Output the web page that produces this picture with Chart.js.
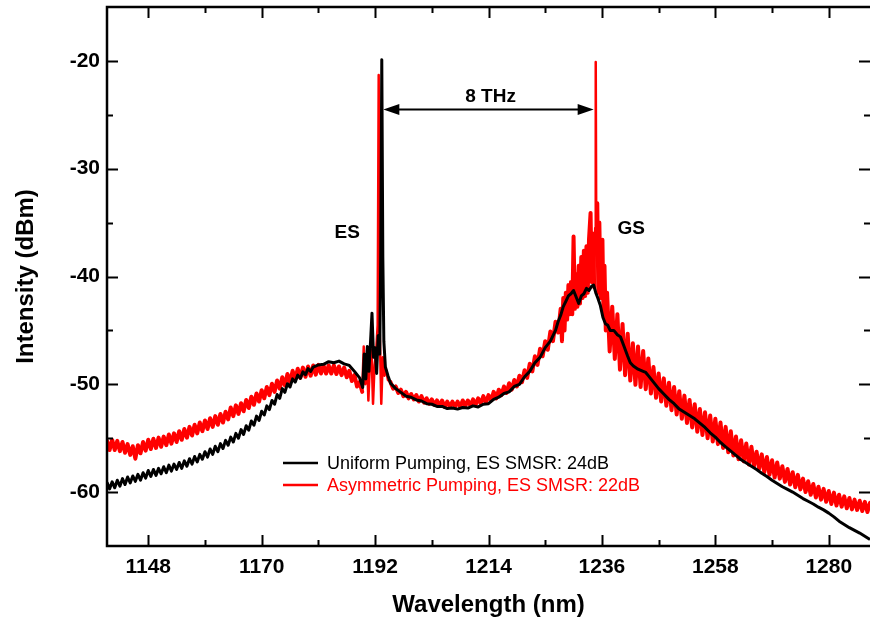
<!DOCTYPE html>
<html>
<head>
<meta charset="utf-8">
<script src="https://cdn.jsdelivr.net/npm/chart.js@4.4.1/dist/chart.umd.min.js"></script>
<style>
  html, body { margin: 0; padding: 0; background: #fff; }
  #wrap { width: 870px; height: 626px; }
</style>
</head>
<body>
<div id="wrap"><canvas id="spectrum" width="870" height="626"></canvas></div>
<script>
// tick labels on the axes
const xTickValues = [1148, 1170, 1192, 1214, 1236, 1258, 1280];
const xMinorValues = [1159, 1181, 1203, 1225, 1247, 1269];
const yTickValues = [-60, -50, -40, -30, -20];
const yMinorValues = [-55, -45, -35, -25];

// series names (legend)
const seriesNames = ['Uniform Pumping, ES SMSR: 24dB', 'Asymmetric Pumping, ES SMSR: 22dB'];

// uniform pumping spectrum  [wavelength nm, intensity dBm]
const uniformPumping = [
  [1140, -59.1], [1140.5, -59.7], [1141, -59.05], [1141.5, -59.6], [1142, -58.9], [1142.5, -59.45], [1143, -58.75], [1143.5, -59.3],
  [1144, -58.6], [1144.5, -59.15], [1145, -58.5], [1145.5, -59.0], [1146, -58.35], [1146.5, -58.9], [1147, -58.2], [1147.5, -58.7],
  [1148, -58.0], [1148.5, -58.55], [1149, -57.9], [1149.5, -58.45], [1150, -57.8], [1150.5, -58.3], [1151, -57.65], [1151.5, -58.2],
  [1152, -57.5], [1152.5, -58.05], [1153, -57.4], [1153.5, -57.9], [1154, -57.25], [1154.5, -57.8], [1155, -57.1], [1155.5, -57.6],
  [1156, -56.9], [1156.5, -57.4], [1157, -56.7], [1157.5, -57.2], [1158, -56.5], [1158.5, -56.95], [1159, -56.25], [1159.5, -56.75],
  [1160, -56.0], [1160.5, -56.5], [1161, -55.75], [1161.5, -56.25], [1162, -55.5], [1162.5, -55.95], [1163, -55.2], [1163.5, -55.65],
  [1164, -54.9], [1164.5, -55.35], [1165, -54.55], [1165.5, -55.0], [1166, -54.2], [1166.5, -54.65], [1167, -53.85], [1167.5, -54.25],
  [1168, -53.4], [1168.5, -53.8], [1169, -52.95], [1169.5, -53.35], [1170, -52.5], [1170.5, -52.85], [1171, -52.0], [1171.5, -52.35],
  [1172, -51.5], [1172.5, -51.85], [1173, -50.95], [1173.5, -51.3], [1174, -50.4], [1174.5, -50.75], [1175, -49.95], [1175.5, -50.25],
  [1176, -49.5], [1176.5, -49.8], [1177, -49.15], [1177.5, -49.45], [1178, -48.85], [1178.5, -49.1], [1179, -48.55], [1179.5, -48.8],
  [1180, -48.4], [1181, -48.2], [1182, -48.15], [1183, -47.9], [1184, -48.0], [1185, -47.85], [1186, -48.1], [1187, -48.25],
  [1188, -48.8], [1189, -49.4], [1189.6, -50.3],
  // ES lasing region
  [1189.9, -47.2], [1190.2, -49.5], [1190.5, -46.5], [1190.8, -48.8], [1191.1, -46.2], [1191.4, -43.4], [1191.7, -47.5],
  [1192.0, -46.6], [1192.3, -49.0], [1192.6, -45.5], [1192.9, -47.2], [1193.1, -38.0], [1193.3, -19.9], [1193.5, -38.2],
  [1193.7, -46.0], [1194.0, -48.4], [1194.5, -49.2],
  [1195, -49.9], [1196, -50.4], [1197, -50.75], [1198, -51.1], [1199, -51.2], [1200, -51.45], [1201, -51.55], [1202, -51.8],
  [1203, -51.85], [1204, -52.05], [1205, -52.05], [1206, -52.25], [1207, -52.2], [1208, -52.3], [1209, -52.15], [1210, -52.2],
  [1211, -52.0], [1212, -52.1], [1213, -51.85], [1214, -51.8], [1215, -51.4], [1216, -51.2], [1217, -50.85], [1218, -50.7],
  [1219, -50.2], [1220, -50.0], [1221, -49.3], [1222, -48.8], [1223, -48.0], [1224, -47.5], [1225, -46.6], [1226, -46.0],
  [1227, -45.0], [1227.5, -44.2], [1228, -43.6], [1228.5, -42.8],
  // GS region
  [1229, -42.3], [1229.5, -41.8], [1230, -41.6], [1230.5, -41.3], [1231, -41.9], [1231.5, -42.5], [1232, -41.8], [1232.5, -41.6],
  [1233, -41.1], [1233.5, -41.3], [1234, -40.9], [1234.4, -40.8], [1234.8, -41.5], [1235.2, -42.0], [1235.7, -42.7], [1236.2, -43.8],
  [1236.7, -44.4], [1237.1, -44.5], [1237.6, -45.0], [1238.3, -45.0], [1239, -45.4], [1239.6, -45.6], [1240.3, -46.5], [1241, -47.4],
  [1241.5, -48.0], [1242.1, -48.3], [1243, -48.6], [1244, -48.8], [1244.5, -48.9], [1245, -49.2], [1246, -49.8], [1247, -50.4],
  [1248, -50.9], [1249, -51.4], [1250, -51.8], [1251, -52.3], [1252, -52.6], [1253, -52.9], [1254, -53.2], [1255, -53.6],
  [1256, -54.0], [1257, -54.5], [1258, -54.9], [1259, -55.4], [1260, -55.8], [1261, -56.2], [1262, -56.6], [1263, -57.0],
  [1264, -57.3], [1265, -57.6], [1266, -57.9], [1267, -58.25], [1268, -58.55], [1269, -58.9], [1270, -59.2], [1271, -59.5],
  [1272, -59.75], [1273, -60.0], [1274, -60.3], [1275, -60.6], [1276, -60.85], [1277, -61.1], [1278, -61.4], [1279, -61.65],
  [1280, -61.95], [1281, -62.3], [1282, -62.7], [1283, -63.0], [1284, -63.3], [1285, -63.55], [1286, -63.8], [1287, -64.1],
  [1288, -64.4]
];

// asymmetric pumping spectrum  [wavelength nm, intensity dBm]
const asymmetricPumping = [
  [1140, -55.25], [1140.5, -56.1], [1141, -55.15], [1141.5, -56.1], [1142, -55.25], [1142.5, -56.2], [1143, -55.35], [1143.5, -56.35],
  [1144, -55.55], [1144.5, -56.55], [1145, -55.75], [1145.5, -56.9], [1146, -55.65], [1146.5, -56.4], [1147, -55.35], [1147.5, -56.15],
  [1148, -55.15], [1148.5, -56.0], [1149, -55.05], [1149.5, -55.9], [1150, -54.95], [1150.5, -55.8], [1151, -54.85], [1151.5, -55.65],
  [1152, -54.65], [1152.5, -55.5], [1153, -54.55], [1153.5, -55.35], [1154, -54.35], [1154.5, -55.15], [1155, -54.15], [1155.5, -54.95],
  [1156, -53.95], [1156.5, -54.75], [1157, -53.75], [1157.5, -54.55], [1158, -53.55], [1158.5, -54.35], [1159, -53.35], [1159.5, -54.15],
  [1160, -53.15], [1160.5, -53.95], [1161, -52.95], [1161.5, -53.75], [1162, -52.75], [1162.5, -53.55], [1163, -52.55], [1163.5, -53.25],
  [1164, -52.15], [1164.5, -52.95], [1165, -51.95], [1165.5, -52.75], [1166, -51.75], [1166.5, -52.5], [1167, -51.45], [1167.5, -52.2],
  [1168, -51.15], [1168.5, -51.9], [1169, -50.85], [1169.5, -51.6], [1170, -50.55], [1170.5, -51.3], [1171, -50.25], [1171.5, -51.0],
  [1172, -49.95], [1172.5, -50.7], [1173, -49.65], [1173.5, -50.4], [1174, -49.35], [1174.5, -50.1], [1175, -49.05], [1175.5, -49.8],
  [1176, -48.75], [1176.5, -49.55], [1177, -48.55], [1177.5, -49.4], [1178, -48.45], [1178.5, -49.3], [1179, -48.35], [1179.5, -49.2],
  [1180, -48.25], [1180.5, -49.1], [1181, -48.2], [1181.5, -49.0], [1182, -48.25], [1182.5, -49.0], [1183, -48.25], [1183.5, -49.0],
  [1184, -48.25], [1184.5, -49.05], [1185, -48.35], [1185.5, -49.15], [1186, -48.45], [1186.5, -49.35], [1187, -48.75], [1187.5, -49.7],
  [1188, -49.15], [1188.5, -50.2], [1189, -49.8], [1189.5, -50.7],
  // ES lasing region
  [1189.8, -46.5], [1190.1, -50.0], [1190.4, -47.2], [1190.7, -51.5], [1191.0, -48.0], [1191.3, -46.8], [1191.6, -51.8],
  [1191.9, -48.2], [1192.2, -47.0], [1192.5, -44.5], [1192.7, -21.3], [1192.9, -45.0], [1193.2, -51.8], [1193.5, -47.5],
  [1193.8, -49.2], [1194.1, -48.6], [1194.5, -49.6],
  [1195, -49.8], [1195.5, -50.4], [1196, -50.2], [1196.5, -50.8], [1197, -50.5], [1197.5, -51.1], [1198, -50.7], [1198.5, -51.3],
  [1199, -50.9], [1199.5, -51.4], [1200, -51.0], [1200.5, -51.6], [1201, -51.1], [1201.5, -51.7], [1202, -51.3], [1202.5, -51.8],
  [1203, -51.4], [1203.5, -51.9], [1204, -51.5], [1204.5, -52.0], [1205, -51.5], [1205.5, -52.1], [1206, -51.6], [1206.5, -52.1],
  [1207, -51.6], [1207.5, -52.1], [1208, -51.6], [1208.5, -52.1], [1209, -51.5], [1209.5, -52.0], [1210, -51.5], [1210.5, -52.0],
  [1211, -51.4], [1211.5, -51.9], [1212, -51.3], [1212.5, -51.8], [1213, -51.1], [1213.5, -51.7], [1214, -51.0], [1214.5, -51.5],
  [1215, -50.7], [1215.5, -51.3], [1216, -50.5], [1216.5, -51.0], [1217, -50.2], [1217.5, -50.8], [1218, -49.9], [1218.5, -50.5],
  [1219, -49.6], [1219.5, -50.2], [1220, -49.2], [1220.5, -49.8], [1221, -48.7], [1221.5, -49.4], [1222, -48.1], [1222.5, -48.8],
  [1223, -47.4], [1223.5, -48.2], [1224, -46.7], [1224.5, -47.4], [1225, -46.0], [1225.5, -46.8], [1226, -45.1], [1226.5, -46.0],
  [1227, -44.2], [1227.5, -45.2],
  // GS region
  [1228, -43.0], [1228.25, -46.0], [1228.5, -42.0], [1228.75, -45.0], [1229, -41.5], [1229.25, -44.0], [1229.5, -40.8], [1229.75, -43.5],
  [1230, -40.5], [1230.25, -43.5], [1230.5, -36.3], [1230.75, -43.0], [1231, -39.8], [1231.25, -42.8], [1231.5, -39.0], [1231.75, -42.5],
  [1232, -38.2], [1232.25, -42.0], [1232.5, -37.6], [1232.75, -41.8], [1233, -37.2], [1233.25, -41.5], [1233.5, -36.5], [1233.8, -34.1],
  [1234, -40.5], [1234.25, -36.0], [1234.5, -41.0], [1234.7, -35.5], [1234.8, -20.1], [1234.9, -36.0], [1235.1, -33.2], [1235.3, -41.5],
  [1235.5, -35.0], [1235.75, -42.0], [1236.1, -36.6], [1236.3, -43.5], [1236.5, -39.0], [1236.75, -45.0], [1237, -41.5],
  [1237.5, -46.95], [1238, -42.8], [1238.5, -47.65], [1239, -43.5], [1239.5, -48.65], [1240, -44.4], [1240.5, -49.15], [1241, -45.3],
  [1241.5, -49.65], [1242, -46.2], [1242.5, -50.05], [1243, -46.5], [1243.5, -50.25], [1244, -46.9], [1244.5, -50.45], [1245, -47.6],
  [1245.5, -50.85], [1246, -48.4], [1246.5, -51.25], [1247, -49.0], [1247.5, -51.6], [1248, -49.45], [1248.5, -52.0], [1249, -49.85],
  [1249.5, -52.4], [1250, -50.25], [1250.5, -52.8], [1251, -50.65], [1251.5, -53.2], [1252, -51.05], [1252.5, -53.6], [1253, -51.45],
  [1253.5, -54.0], [1254, -51.85], [1254.5, -54.4], [1255, -52.3], [1255.5, -54.7], [1256, -52.6], [1256.5, -55.0], [1257, -52.9],
  [1257.5, -55.3], [1258, -53.2], [1258.5, -55.55], [1259, -53.55], [1259.5, -55.9], [1260, -53.95], [1260.5, -56.3], [1261, -54.35],
  [1261.5, -56.6], [1262, -54.85], [1262.5, -56.95], [1263, -55.2], [1263.5, -57.15], [1264, -55.5], [1264.5, -57.45], [1265, -55.8],
  [1265.5, -57.6], [1266, -56.25], [1266.5, -57.85], [1267, -56.5], [1267.5, -58.15], [1268, -56.75], [1268.5, -58.4], [1269, -57.05],
  [1269.5, -58.65], [1270, -57.25], [1270.5, -58.75], [1271, -57.6], [1271.5, -59.05], [1272, -57.85], [1272.5, -59.3], [1273, -58.15],
  [1273.5, -59.55], [1274, -58.4], [1274.5, -59.75], [1275, -58.75], [1275.5, -60.0], [1276, -59.0], [1276.5, -60.25], [1277, -59.25],
  [1277.5, -60.5], [1278, -59.5], [1278.5, -60.7], [1279, -59.7], [1279.5, -60.9], [1280, -59.9], [1280.5, -61.1], [1281, -60.05],
  [1281.5, -61.25], [1282, -60.25], [1282.5, -61.35], [1283, -60.4], [1283.5, -61.5], [1284, -60.55], [1284.5, -61.6], [1285, -60.7],
  [1285.5, -61.65], [1286, -60.8], [1286.5, -61.75], [1287, -60.9], [1287.5, -61.85], [1288, -61.0]
];

// text notes on the plot  [text, wavelength, dBm]
const notes = [['ES', 1186.6, -35.9], ['GS', 1241.7, -35.6], ['8 THz', 1214.4, -23.3]];
// arrow between the two lasing lines  [from nm, to nm, dBm]
const spacingArrow = [1193.6, 1234.4, -24.5];

const fontFamily = '"Liberation Sans", Arial, Helvetica, sans-serif';
const seriesColors = ['#000000', '#ff0000'];

function toPoints(pairs) {
    return pairs.map(p => ({ x: p[0], y: p[1] }));
}

// thin line only around the two lasing lines
function redWidth(c) {
    const x0 = c.p0.parsed.x;
    if (x0 >= 1189.5 && x0 < 1195) return 2.5;
    if (x0 >= 1234.5 && x0 < 1235) return 2.5;
    return 4;
}

// draws frame, inward ticks, annotations and legend
const framePlugin = {
    id: 'framePlugin',
    afterDatasetsDraw(chart) {
        const ctx = chart.ctx;
        const a = chart.chartArea;
        const x = chart.scales.x;
        const y = chart.scales.y;

        ctx.save();
        ctx.strokeStyle = '#000';
        ctx.lineWidth = 2.5;
        ctx.beginPath();
        ctx.moveTo(a.right + 2, a.top);
        ctx.lineTo(a.left, a.top);
        ctx.lineTo(a.left, a.bottom);
        ctx.lineTo(a.right + 2, a.bottom);
        ctx.stroke();

        ctx.lineWidth = 2;
        ctx.beginPath();
        function tickX(v, len) {
            const px = Math.round(x.getPixelForValue(v)) + 0.5;
            ctx.moveTo(px, a.bottom); ctx.lineTo(px, a.bottom - len);
            ctx.moveTo(px, a.top); ctx.lineTo(px, a.top + len);
        }
        function tickY(v, len) {
            const py = Math.round(y.getPixelForValue(v)) + 0.5;
            ctx.moveTo(a.left, py); ctx.lineTo(a.left + len, py);
            ctx.moveTo(a.right, py); ctx.lineTo(a.right - len, py);
        }
        xTickValues.forEach(v => tickX(v, 11));
        xMinorValues.forEach(v => tickX(v, 6));
        yTickValues.forEach(v => tickY(v, 11));
        yMinorValues.forEach(v => tickY(v, 6));
        ctx.stroke();

        // notes
        ctx.fillStyle = '#000';
        ctx.font = 'bold 19px ' + fontFamily;
        ctx.textAlign = 'center';
        ctx.textBaseline = 'middle';
        notes.forEach(n => {
            ctx.fillText(n[0], x.getPixelForValue(n[1]), y.getPixelForValue(n[2]));
        });

        // double arrow
        const x1 = x.getPixelForValue(spacingArrow[0]);
        const x2 = x.getPixelForValue(spacingArrow[1]);
        const ay = Math.round(y.getPixelForValue(spacingArrow[2])) + 0.5;
        ctx.lineWidth = 2;
        ctx.beginPath();
        ctx.moveTo(x1 + 10, ay);
        ctx.lineTo(x2 - 10, ay);
        ctx.stroke();
        ctx.beginPath();
        ctx.moveTo(x1, ay); ctx.lineTo(x1 + 16, ay - 5.5); ctx.lineTo(x1 + 16, ay + 5.5); ctx.closePath();
        ctx.moveTo(x2, ay); ctx.lineTo(x2 - 16, ay - 5.5); ctx.lineTo(x2 - 16, ay + 5.5); ctx.closePath();
        ctx.fill();

        // legend
        ctx.font = '18px ' + fontFamily;
        ctx.textAlign = 'left';
        const rows = [463, 485];
        chart.data.datasets.forEach((ds, i) => {
            ctx.strokeStyle = ds.borderColor;
            ctx.fillStyle = ds.borderColor;
            ctx.lineWidth = 2.5;
            ctx.beginPath();
            ctx.moveTo(283, rows[i]);
            ctx.lineTo(318, rows[i]);
            ctx.stroke();
            ctx.fillText(ds.label, 327, rows[i] + 1);
        });
        ctx.restore();
    }
};

const tickFont = { family: fontFamily, size: 21, weight: 'bold' };
const titleFont = { family: fontFamily, size: 24, weight: 'bold' };

new Chart(document.getElementById('spectrum'), {
    type: 'line',
    data: {
        datasets: [{
            label: seriesNames[0],
            data: toPoints(uniformPumping),
            borderColor: seriesColors[0],
            borderWidth: 3,
            borderJoinStyle: 'round',
            pointRadius: 0,
            tension: 0
        }, {
            label: seriesNames[1],
            data: toPoints(asymmetricPumping),
            borderColor: seriesColors[1],
            borderWidth: 4,
            borderJoinStyle: 'round',
            borderCapStyle: 'round',
            segment: { borderWidth: redWidth },
            pointRadius: 0,
            tension: 0
        }]
    },
    options: {
        responsive: false,
        animation: false,
        devicePixelRatio: 1,
        layout: { padding: { top: 7, right: 0, left: 0, bottom: 0 } },
        plugins: {
            legend: { display: false },
            tooltip: { enabled: false }
        },
        scales: {
            x: {
                type: 'linear',
                min: 1140,
                max: 1288,
                grid: { display: false, drawTicks: false },
                border: { display: false },
                ticks: {
                    color: '#000',
                    font: tickFont,
                    padding: 9,
                    autoSkip: false,
                    maxRotation: 0,
                    callback: v => String(v)
                },
                afterBuildTicks: s => { s.ticks = xTickValues.map(v => ({ value: v })); },
                afterFit: s => { s.height = 80; s.paddingLeft = 0; s.paddingRight = 0; },
                title: {
                    display: true,
                    text: 'Wavelength (nm)',
                    color: '#000',
                    font: titleFont,
                    padding: { top: 0, bottom: 6 }
                }
            },
            y: {
                min: -65,
                max: -15,
                grid: { display: false, drawTicks: false },
                border: { display: false },
                ticks: {
                    color: '#000',
                    font: { family: fontFamily, size: 21, weight: 'bold' },
                    padding: 7,
                    autoSkip: false,
                    callback: v => String(v)
                },
                afterBuildTicks: s => { s.ticks = yTickValues.map(v => ({ value: v })); },
                afterFit: s => { s.width = 107; s.paddingTop = 0; s.paddingBottom = 0; },
                title: {
                    display: true,
                    text: 'Intensity (dBm)',
                    color: '#000',
                    font: titleFont,
                    padding: { top: 12, bottom: 0 }
                }
            }
        }
    },
    plugins: [framePlugin]
});
</script>
</body>
</html>
